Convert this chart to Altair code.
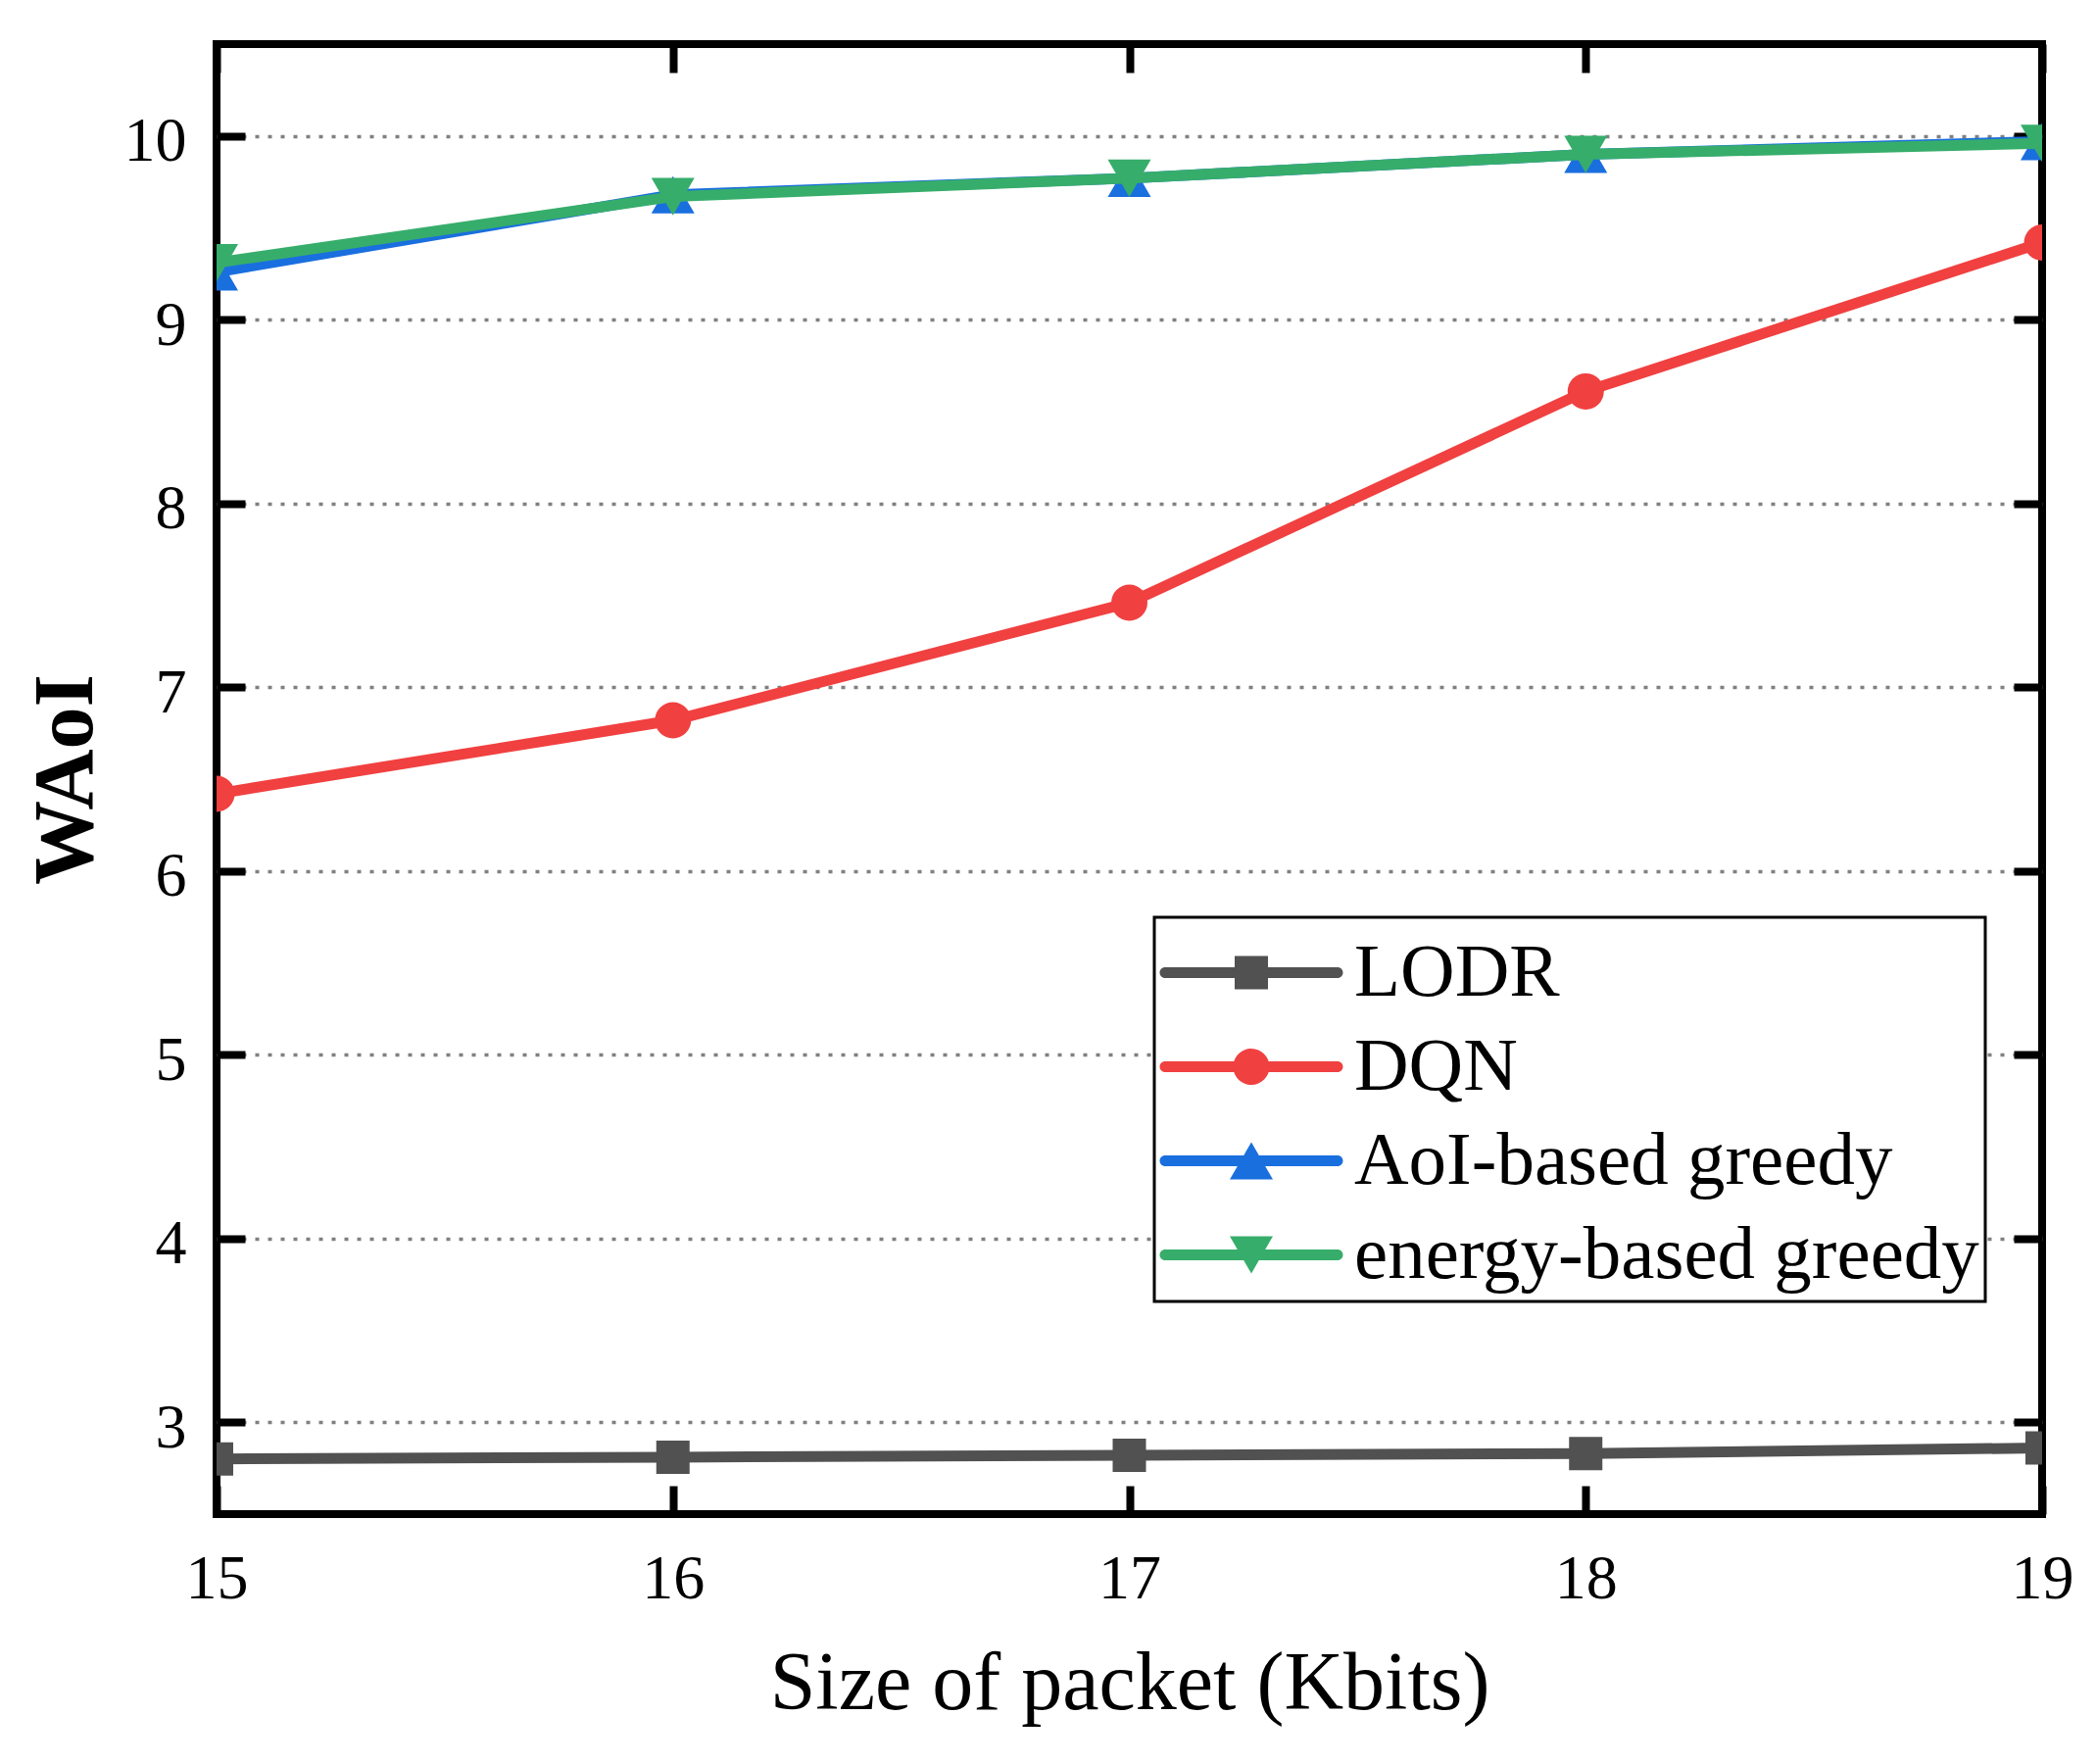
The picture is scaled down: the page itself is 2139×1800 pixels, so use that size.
import altair as alt
import pandas as pd

# ---- data ----
x_vals = [15, 16, 17, 18, 19]
series_names = ["LODR", "DQN", "AoI-based greedy", "energy-based greedy"]
lodr = [2.80, 2.81, 2.82, 2.83, 2.86]
dqn = [6.42, 6.82, 7.46, 8.61, 9.42]
aoi_greedy = [9.26, 9.68, 9.77, 9.90, 9.97]
energy_greedy = [9.31, 9.67, 9.77, 9.90, 9.96]
x_ticks = [15, 16, 17, 18, 19]
y_ticks = [3, 4, 5, 6, 7, 8, 9, 10]

# ---- styles ----
colors = ["#515151", "#F14040", "#1A6FDF", "#37AD6B"]
shapes = ["square", "circle", "triangle-up", "triangle-down"]
marker_sizes = [1156, 1369, 1936, 1936]
FONT = "Liberation Serif"

values = [lodr, dqn, aoi_greedy, energy_greedy]
rows = []
for name, ys in zip(series_names, values):
    for xv, yv in zip(x_vals, ys):
        rows.append({"x": xv, "y": yv, "series": name})
df = pd.DataFrame(rows)

# legend symbols: a line with the marker on it (unit = 17px)
line_path = ("M -1.97,-0.324 L 8.382,-0.324 A 0.324,0.324 0 0 1 8.382,0.324 "
             "L -1.97,0.324 A 0.324,0.324 0 0 1 -1.97,-0.324 Z ")
# zero-area points that only widen the entry height
pad_path = "M 3.206,-2.82 L 3.206,-2.82 Z M 3.206,2.41 L 3.206,2.41 Z "
marker_paths = [
    "M 2.206,-1 L 4.206,-1 L 4.206,1 L 2.206,1 Z",
    "M 2.116,0 A 1.09,1.09 0 1 1 4.296,0 A 1.09,1.09 0 1 1 2.116,0 Z",
    "M 3.206,-1.118 L 4.5,1.118 L 1.912,1.118 Z",
    "M 1.912,-1.118 L 4.5,-1.118 L 3.206,1.118 Z",
]
legend_shapes = [pad_path + line_path + mp for mp in marker_paths]

leg = alt.Legend(
    title=" ", titleFontSize=1, titlePadding=11,
    orient="none", legendX=957, legendY=891,
    padding=6, strokeColor="black", fillColor="white",
    labelFont=FONT, labelFontSize=77, labelColor="black", labelLimit=2000,
    labelOffset=121, symbolSize=1156, symbolStrokeWidth=0, symbolOpacity=1,
    rowPadding=6,
)

xs = alt.Scale(domain=[15, 19], nice=False, zero=False)
ysc = alt.Scale(domain=[2.5, 10.5], nice=False, zero=False)

W, H = 1863, 1500

x_axis = alt.Axis(
    orient="bottom", values=x_ticks, format="d", domain=False, grid=False,
    tickSize=29, tickWidth=8, tickColor="black", offset=-29,
    labelFont=FONT, labelFontSize=64, labelColor="black", labelPadding=34,
    labelFlush=False,
    title="Size of packet (Kbits)", titleFont=FONT, titleFontSize=84,
    titleFontWeight="normal", titleColor="black", titleBaseline="alphabetic",
    titleX=W / 2, titleY=227, titleAlign="center",
)
y_axis = alt.Axis(
    orient="left", values=y_ticks, format="d", domain=False, grid=True,
    gridColor="#808080", gridDash=[4, 9], gridWidth=3.5,
    tickSize=29, tickWidth=8, tickColor="black", offset=-29,
    labelFont=FONT, labelFontSize=64, labelColor="black", labelPadding=31,
    labelOffset=6,
    title="WAoI", titleFont=FONT, titleFontSize=86, titleFontWeight="bold",
    titleColor="black", titleAngle=270, titleBaseline="alphabetic",
    titleX=-157, titleY=H / 2, titleAlign="center",
)
x_top = alt.Axis(orient="top", values=x_ticks, labels=False, domain=False,
                 grid=False, tickSize=29, tickWidth=8, tickColor="black",
                 offset=-29, title=None)
y_right = alt.Axis(orient="right", values=y_ticks, labels=False, domain=False,
                   grid=False, tickSize=29, tickWidth=8, tickColor="black",
                   offset=-29, title=None)

color_nolegend = alt.Color("series:N", scale=alt.Scale(domain=series_names, range=colors), legend=None)
shape_plain = alt.Shape("series:N", scale=alt.Scale(domain=series_names, range=shapes), legend=None)

base = alt.Chart(df)
layers = []
for name, size in zip(series_names, marker_sizes):
    sub = base.transform_filter(alt.datum.series == name)
    layers.append(
        sub.mark_line(strokeWidth=11, clip=True).encode(
            x=alt.X("x:Q", scale=xs, axis=x_axis),
            y=alt.Y("y:Q", scale=ysc, axis=y_axis),
            color=color_nolegend,
        )
    )
    layers.append(
        sub.mark_point(filled=True, opacity=1, size=size, clip=True).encode(
            x=alt.X("x:Q", scale=xs, axis=x_axis),
            y=alt.Y("y:Q", scale=ysc, axis=y_axis),
            color=color_nolegend,
            shape=shape_plain,
        )
    )

main = alt.layer(*layers)

# layer with no rows: carries the top/right mirrored axes and the legend
guide_layer = base.transform_filter("false").mark_point(filled=True, opacity=1).encode(
    x=alt.X("x:Q", scale=xs, axis=x_top),
    y=alt.Y("y:Q", scale=ysc, axis=y_right),
    color=alt.Color("series:N", scale=alt.Scale(domain=series_names, range=colors), legend=leg),
    shape=alt.Shape("series:N", scale=alt.Scale(domain=series_names, range=legend_shapes), legend=leg),
)

chart = (
    alt.layer(main, guide_layer)
    .resolve_axis(x="independent", y="independent")
    .resolve_scale(shape="independent", color="independent")
    .properties(
        width=W, height=H,
        padding={"left": 213, "top": 37, "right": 47, "bottom": 240},
        autosize=alt.AutoSizeParams(type="none"),
    )
    .configure(font=FONT, background="white")
    .configure_view(stroke="black", strokeWidth=8)
    .configure_legend(strokeWidth=3)
)

chart.save("out.html", embed_options={"renderer": "svg", "actions": False})
